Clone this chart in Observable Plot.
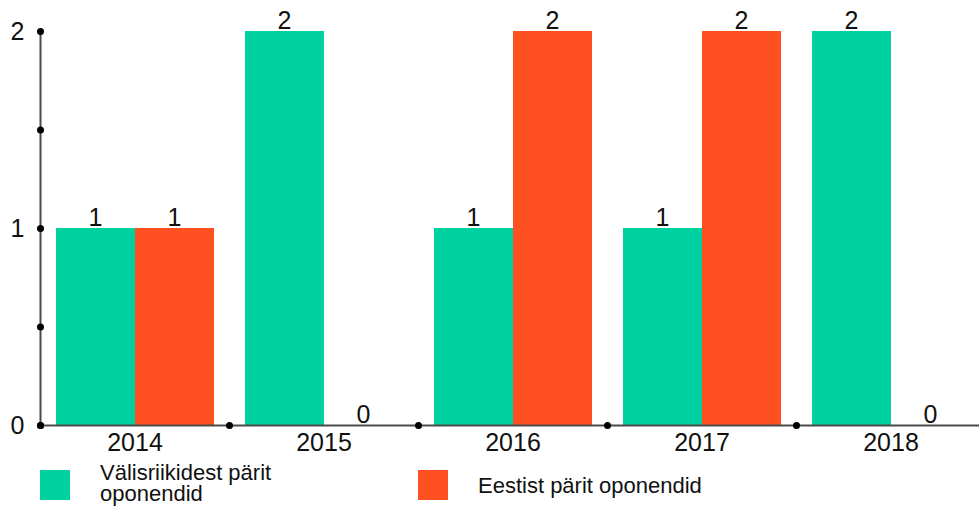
<!DOCTYPE html>
<html><head><meta charset="utf-8">
<script src="https://cdn.jsdelivr.net/npm/d3@7"></script>
<script src="https://cdn.jsdelivr.net/npm/@observablehq/plot@0.6"></script>
<style>
body{margin:0;background:#fff;overflow:hidden;font-family:"Liberation Sans",Arial,sans-serif;}
#legend{position:relative;height:46px;}
.item{position:absolute;top:0;display:flex;align-items:flex-start;}
.sw{width:30px;height:30px;margin-right:30px;margin-top:10px;flex:none}
.lab{font-size:22px;line-height:21px;color:#111;}
</style></head><body><div id="chart"></div><div id="legend"></div>
<script>
const years = ["2014","2015","2016","2017","2018"];
const foreign = [1,2,1,1,2];
const estonian = [1,0,2,2,0];
const seriesNames = ["Välisriikidest pärit oponendid","Eestist pärit oponendid"];
const colors = ["#00d1a1","#ff5022"];
const yTicks = [0,1,2];
const yDots = [0,0.5,1,1.5,2];

// layout helpers (group units on a linear x scale: group i spans [i, i+1])
const pad = 15.5/189;
const half = (1 - 2*pad)/2;
const rows = [];
years.forEach((y,i)=>{
  [foreign[i], estonian[i]].forEach((v,s)=>{
    const x1 = i + pad + s*half;
    rows.push({year:y, i, s, series: seriesNames[s], value:v, x1, x2: x1+half, xc: x1+half/2});
  });
});
const groupEdges = years.map((d,i)=>i);

const chart = Plot.plot({
  width: 979, height: 460,
  marginTop: 31, marginBottom: 35, marginLeft: 40, marginRight: 0,
  style: {fontFamily: '"Liberation Sans", Arial, sans-serif', fontSize: "25px", color:"#111", background:"#fff"},
  x: {type:"linear", domain:[0,5], range:[40,985], axis:null},
  y: {domain:[0,2], axis:null},
  color: {domain: seriesNames, range: colors},
  marks: [
    Plot.rectY(rows, {x1:"x1", x2:"x2", y:"value", fill:"series", shapeRendering:"crispEdges"}),
    Plot.ruleX([0], {y1:0, y2:2, stroke:"#4a4a4a", strokeWidth:2}),
    Plot.ruleY([0], {stroke:"#4a4a4a", strokeWidth:2}),
    Plot.dot(yDots, {x:0, y:d=>d, r:3.5, fill:"#000"}),
    Plot.dot(groupEdges, {x:d=>d, y:0, r:3.5, fill:"#000"}),
    Plot.text(yTicks, {x:0, y:d=>d, text:d=>String(d), textAnchor:"end", dx:-16, fontSize:25, fill:"#111"}),
    Plot.text(years, {x:(d,i)=>i+0.5, y:0, text:d=>d, lineAnchor:"top", dy:8, fontSize:25, fill:"#111"}),
    Plot.text(rows, {x:"xc", y:"value", text:d=>String(d.value), lineAnchor:"bottom", dy:-3, fontSize:25, fill:"#111"})
  ]
});
document.getElementById("chart").append(chart);

const legend = document.getElementById("legend");
const lefts = [40, 418];
const labTops = [2, 15];
seriesNames.forEach((name,k)=>{
  const it = document.createElement("div");
  it.className="item"; it.style.left = lefts[k]+"px";
  const sw = document.createElement("div"); sw.className="sw"; sw.style.background = colors[k];
  const lab = document.createElement("div"); lab.className="lab"; lab.textContent = name;
  lab.style.marginTop = labTops[k] + "px";
  if (k===0) lab.style.maxWidth = "200px";
  it.append(sw, lab); legend.append(it);
});
</script></body></html>
